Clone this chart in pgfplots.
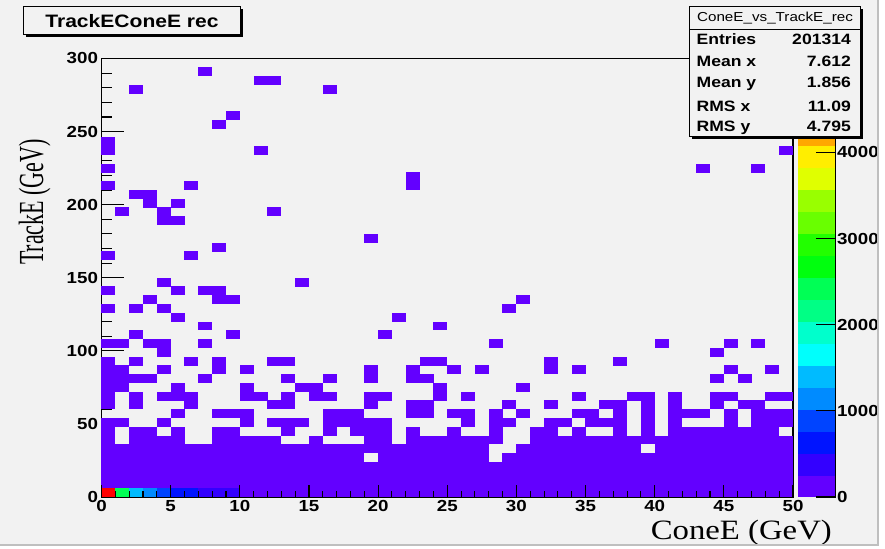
\documentclass[border=0pt]{standalone}
\usepackage{fontspec}
\usepackage{pgfplots}
\pgfplotsset{compat=1.18}
\setmainfont{Liberation Serif}
\newfontfamily\rootsans[FakeStretch=1.17]{Liberation Sans}
\newfontfamily\rootserif[FakeStretch=1.17]{Liberation Serif}
\definecolor{canvas}{RGB}{242,242,242}
\newcommand{\tickfont}{\rootsans\bfseries\fontsize{16bp}{16bp}\selectfont}
\pgfdeclareplotmark{bin}{%
  \pgfpathrectangle{\pgfpoint{-7.0bp}{-4.47bp}}{\pgfpoint{14.0bp}{8.94bp}}%
  \pgfusepathqfill}
\pgfplotsset{colormap={rootpal}{rgb255=(99,0,255) rgb255=(51,0,255) rgb255=(0,20,255) rgb255=(0,68,255) rgb255=(0,139,255) rgb255=(0,187,255) rgb255=(0,255,252) rgb255=(0,255,204) rgb255=(0,255,133) rgb255=(0,255,85) rgb255=(0,255,14) rgb255=(34,255,0) rgb255=(105,255,0) rgb255=(153,255,0) rgb255=(224,255,0) rgb255=(255,238,0) rgb255=(255,167,0) rgb255=(255,119,0) rgb255=(255,48,0) rgb255=(255,0,0)}}
\begin{document}
\begin{tikzpicture}[x=1bp,y=1bp]
\useasboundingbox (0,0) rectangle (885,549);
\fill[white] (0,0) rectangle (885,549);
\fill[canvas] (0,4) rectangle (878,549);
\begin{scope}
\clip (0,4) rectangle (878,549);
\begin{axis}[
  at={(101.5bp,52bp)}, anchor=south west,
  scale only axis, width=691.5bp, height=438.5bp,
  xmin=0, xmax=50, ymin=0, ymax=300,
  axis background/.style={fill=canvas},
  axis line style={line width=1.1bp, black},
  xtick=\empty,
  ytick={0,50,...,300}, minor y tick num=4,
  tick pos=left, tick align=inside,
  major tick length=22bp, minor tick length=10bp,
  tick style={line width=1.1bp, black},
  yticklabel style={font=\tickfont},
  /pgf/number format/assume math mode=true,
  axis on top,
  point meta min=0, point meta max=5090,
  colormap name=rootpal, colormap access=piecewise constant,
  colorbar,
  colorbar style={
    at={(parent axis.north east)}, anchor=north west, xshift=-4bp,
    scale only axis, width=38bp, height=438.5bp,
    axis x line=none, axis y line*=right,
    axis line style={line width=1.1bp, black},
    ytick={0,1000,2000,3000,4000}, yticklabels={0,1000,2000,3000,4000},
    scaled y ticks=false,
    tick align=inside, major tick length=20bp,
    tick style={line width=1.1bp, black},
    yticklabel style={font=\tickfont, xshift=-2bp},
    /pgf/number format/assume math mode=true,
  },
]
\addplot[scatter, only marks, mark=bin, point meta=explicit]
 table[row sep=\\, x expr=\thisrow{i}+0.5, y expr=6*\thisrow{j}+3, meta=v] {
i j v\\
0 0 5090\\1 0 2450\\2 0 1400\\3 0 1150\\4 0 850\\5 0 650\\6 0 550\\7 0 400\\8 0 350\\9 0 300\\
10 0 150\\11 0 150\\12 0 150\\13 0 150\\14 0 150\\15 0 150\\16 0 150\\17 0 150\\18 0 150\\19 0 150\\
20 0 150\\21 0 150\\22 0 150\\23 0 150\\24 0 150\\25 0 150\\26 0 150\\27 0 150\\28 0 150\\29 0 150\\
30 0 150\\31 0 150\\32 0 150\\33 0 150\\34 0 150\\35 0 150\\36 0 150\\37 0 150\\38 0 150\\39 0 150\\
40 0 150\\41 0 150\\42 0 150\\43 0 150\\44 0 150\\45 0 150\\46 0 150\\47 0 150\\48 0 150\\49 0 150\\
0 1 60\\1 1 60\\2 1 60\\3 1 60\\4 1 60\\5 1 60\\6 1 60\\7 1 60\\8 1 60\\9 1 60\\
10 1 60\\11 1 60\\12 1 60\\13 1 60\\14 1 60\\15 1 60\\16 1 60\\17 1 60\\18 1 60\\19 1 60\\
20 1 60\\21 1 60\\22 1 60\\23 1 60\\24 1 60\\25 1 60\\26 1 60\\27 1 60\\28 1 60\\29 1 60\\
30 1 60\\31 1 60\\32 1 60\\33 1 60\\34 1 60\\35 1 60\\36 1 60\\37 1 60\\38 1 60\\39 1 60\\
40 1 60\\41 1 60\\42 1 60\\43 1 60\\44 1 60\\45 1 60\\46 1 60\\47 1 60\\48 1 60\\49 1 60\\
0 2 60\\1 2 60\\2 2 60\\3 2 60\\4 2 60\\5 2 60\\6 2 60\\7 2 60\\8 2 60\\9 2 60\\
10 2 60\\11 2 60\\12 2 60\\13 2 60\\14 2 60\\15 2 60\\16 2 60\\17 2 60\\18 2 60\\19 2 60\\
20 2 60\\21 2 60\\22 2 60\\23 2 60\\24 2 60\\25 2 60\\26 2 60\\27 2 60\\28 2 60\\29 2 60\\
30 2 60\\31 2 60\\32 2 60\\33 2 60\\34 2 60\\35 2 60\\36 2 60\\37 2 60\\38 2 60\\39 2 60\\
40 2 60\\41 2 60\\42 2 60\\43 2 60\\44 2 60\\45 2 60\\46 2 60\\47 2 60\\48 2 60\\49 2 60\\
0 3 60\\1 3 60\\2 3 60\\3 3 60\\4 3 60\\5 3 60\\6 3 60\\7 3 60\\8 3 60\\9 3 60\\
10 3 60\\11 3 60\\12 3 60\\13 3 60\\14 3 60\\15 3 60\\16 3 60\\17 3 60\\18 3 60\\19 3 60\\
20 3 60\\21 3 60\\22 3 60\\23 3 60\\24 3 60\\25 3 60\\26 3 60\\27 3 60\\28 3 60\\29 3 60\\
30 3 60\\31 3 60\\32 3 60\\33 3 60\\34 3 60\\35 3 60\\36 3 60\\37 3 60\\38 3 60\\39 3 60\\
40 3 60\\41 3 60\\42 3 60\\43 3 60\\44 3 60\\45 3 60\\46 3 60\\47 3 60\\48 3 60\\49 3 60\\
0 4 60\\1 4 60\\2 4 60\\3 4 60\\4 4 60\\5 4 60\\6 4 60\\7 4 60\\8 4 60\\9 4 60\\
10 4 60\\11 4 60\\12 4 60\\13 4 60\\14 4 60\\15 4 60\\16 4 60\\17 4 60\\18 4 60\\
20 4 60\\21 4 60\\22 4 60\\23 4 60\\24 4 60\\25 4 60\\26 4 60\\27 4 60\\29 4 60\\
30 4 60\\31 4 60\\32 4 60\\33 4 60\\34 4 60\\35 4 60\\36 4 60\\37 4 60\\38 4 60\\39 4 60\\
40 4 60\\41 4 60\\42 4 60\\43 4 60\\44 4 60\\45 4 60\\46 4 60\\47 4 60\\48 4 60\\49 4 60\\
0 5 60\\1 5 60\\2 5 60\\3 5 60\\4 5 60\\5 5 60\\6 5 60\\7 5 60\\8 5 60\\9 5 60\\
10 5 60\\11 5 60\\12 5 60\\13 5 60\\14 5 60\\15 5 60\\16 5 60\\17 5 60\\18 5 60\\19 5 60\\
20 5 60\\21 5 60\\22 5 60\\23 5 60\\24 5 60\\25 5 60\\26 5 60\\27 5 60\\
30 5 60\\31 5 60\\32 5 60\\33 5 60\\34 5 60\\35 5 60\\36 5 60\\37 5 60\\38 5 60\\
40 5 60\\41 5 60\\42 5 60\\43 5 60\\44 5 60\\45 5 60\\46 5 60\\47 5 60\\48 5 60\\49 5 60\\
0 6 60\\2 6 60\\3 6 60\\4 6 60\\5 6 60\\8 6 60\\9 6 60\\10 6 60\\11 6 60\\12 6 60\\15 6 60\\
19 6 60\\20 6 60\\22 6 60\\23 6 60\\24 6 60\\25 6 60\\26 6 60\\27 6 60\\28 6 60\\
31 6 60\\32 6 60\\33 6 60\\34 6 60\\35 6 60\\36 6 60\\37 6 60\\38 6 60\\39 6 60\\
40 6 60\\41 6 60\\42 6 60\\43 6 60\\44 6 60\\45 6 60\\46 6 60\\47 6 60\\48 6 60\\49 6 60\\
0 7 60\\2 7 60\\3 7 60\\5 7 60\\8 7 60\\9 7 60\\13 7 60\\16 7 60\\18 7 60\\19 7 60\\20 7 60\\
22 7 60\\25 7 60\\28 7 60\\31 7 60\\32 7 60\\34 7 60\\37 7 60\\39 7 60\\41 7 60\\42 7 60\\
43 7 60\\44 7 60\\45 7 60\\46 7 60\\47 7 60\\48 7 60\\
0 8 60\\1 8 60\\4 8 60\\10 8 60\\12 8 60\\13 8 60\\14 8 60\\16 8 60\\17 8 60\\18 8 60\\19 8 60\\
20 8 60\\26 8 60\\28 8 60\\29 8 60\\32 8 60\\33 8 60\\35 8 60\\36 8 60\\37 8 60\\39 8 60\\
41 8 60\\45 8 60\\47 8 60\\48 8 60\\49 8 60\\
5 9 60\\8 9 60\\9 9 60\\10 9 60\\16 9 60\\17 9 60\\18 9 60\\22 9 60\\23 9 60\\25 9 60\\26 9 60\\
28 9 60\\30 9 60\\34 9 60\\35 9 60\\37 9 60\\39 9 60\\41 9 60\\42 9 60\\43 9 60\\45 9 60\\
47 9 60\\48 9 60\\49 9 60\\
0 10 60\\2 10 60\\6 10 60\\12 10 60\\13 10 60\\19 10 60\\22 10 60\\23 10 60\\29 10 60\\32 10 60\\
36 10 60\\37 10 60\\39 10 60\\41 10 60\\44 10 60\\46 10 60\\47 10 60\\
0 11 60\\2 11 60\\4 11 60\\5 11 60\\6 11 60\\10 11 60\\11 11 60\\13 11 60\\15 11 60\\16 11 60\\
19 11 60\\20 11 60\\24 11 60\\26 11 60\\34 11 60\\38 11 60\\39 11 60\\41 11 60\\44 11 60\\
45 11 60\\48 11 60\\49 11 60\\
0 12 60\\1 12 60\\5 12 60\\10 12 60\\14 12 60\\15 12 60\\24 12 60\\30 12 60\\
0 13 60\\1 13 60\\2 13 60\\3 13 60\\7 13 60\\13 13 60\\16 13 60\\19 13 60\\22 13 60\\23 13 60\\
44 13 60\\46 13 60\\
0 14 60\\1 14 60\\4 14 60\\8 14 60\\10 14 60\\19 14 60\\22 14 60\\25 14 60\\27 14 60\\32 14 60\\
34 14 60\\45 14 60\\48 14 60\\
0 15 60\\2 15 60\\6 15 60\\8 15 60\\12 15 60\\13 15 60\\23 15 60\\24 15 60\\32 15 60\\37 15 60\\
4 16 60\\44 16 60\\
0 17 60\\1 17 60\\3 17 60\\4 17 60\\7 17 60\\28 17 60\\40 17 60\\45 17 60\\47 17 60\\
2 18 60\\9 18 60\\20 18 60\\
7 19 60\\24 19 60\\
5 20 60\\21 20 60\\
0 21 60\\2 21 60\\4 21 60\\29 21 60\\
3 22 60\\8 22 60\\9 22 60\\30 22 60\\
0 23 60\\5 23 60\\7 23 60\\8 23 60\\
4 24 60\\14 24 60\\
0 27 60\\6 27 60\\
8 28 60\\
19 29 60\\
4 31 60\\5 31 60\\
1 32 60\\4 32 60\\12 32 60\\
3 33 60\\5 33 60\\
2 34 60\\3 34 60\\
0 35 60\\6 35 60\\22 35 60\\
22 36 60\\
0 37 60\\43 37 60\\47 37 60\\
0 39 60\\11 39 60\\49 39 60\\
0 40 60\\
8 42 60\\
9 43 60\\
2 46 60\\16 46 60\\
11 47 60\\12 47 60\\
7 48 60\\
};
\end{axis}
\begin{axis}[
  at={(101.5bp,52bp)}, anchor=south west,
  scale only axis, width=691.5bp, height=438.5bp,
  xmin=0, xmax=50, ymin=0, ymax=300,
  axis line style={draw=none},
  ytick=\empty,
  xtick={0,5,...,50}, minor x tick num=4,
  tick pos=left, tick align=inside,
  major tick length=12bp, minor tick length=6bp,
  tick style={line width=1.1bp, black},
  xticklabel style={font=\tickfont},
  /pgf/number format/assume math mode=true,
]
\end{axis}
% title box
\fill[black] (26,511.5) rectangle (243,539.5);
\filldraw[fill=canvas, draw=black, line width=1bp] (23.5,514) rectangle (240.5,542.3);
\node[font=\rootsans\bfseries\fontsize{18bp}{18bp}\selectfont] at (132,528.2) {TrackEConeE rec};
% stats box
\fill[black] (692,409.8) rectangle (862.5,539.8);
\filldraw[fill=canvas, draw=black, line width=1bp] (689.5,412.3) rectangle (860,542.3);
\draw[black, line width=1bp] (689.5,519) -- (860,519);
\node[font=\rootsans\fontsize{13bp}{13bp}\selectfont] at (775,530.5) {ConeE\_vs\_TrackE\_rec};
\begin{scope}[every node/.style={font=\rootsans\bfseries\fontsize{15bp}{15bp}\selectfont, inner sep=0pt}]
\node[anchor=base west] at (696.5,504) {Entries};
\node[anchor=base east] at (851,504) {201314};
\node[anchor=base west] at (696.5,482.3) {Mean x};
\node[anchor=base east] at (851,482.3) {7.612};
\node[anchor=base west] at (696.5,461.7) {Mean y};
\node[anchor=base east] at (851,461.7) {1.856};
\node[anchor=base west] at (696.5,437) {RMS x};
\node[anchor=base east] at (851,437) {11.09};
\node[anchor=base west] at (696.5,417) {RMS y};
\node[anchor=base east] at (851,417) {4.795};
\end{scope}
% axis titles
\node[anchor=base east, inner sep=0pt, font=\rootserif\fontsize{28bp}{28bp}\selectfont] at (832,9) {ConeE (GeV)};
\node[anchor=base east, inner sep=0pt, rotate=90] at (43,410) {\scalebox{1}[1.6]{\fontsize{22bp}{22bp}\selectfont TrackE (GeV)}};
\end{scope}
\draw[black!25, line width=1.2bp] (878,549) -- (878,4) -- (0,4);
\end{tikzpicture}
\end{document}
